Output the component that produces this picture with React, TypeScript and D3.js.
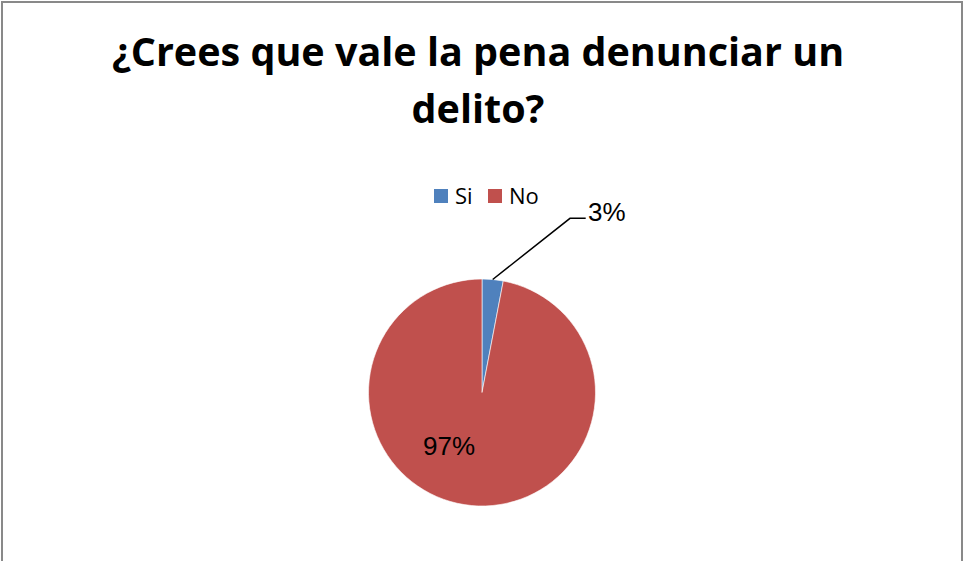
import React from "react";
import * as d3 from "d3";

const categories = ["Si", "No"];
const values = [3, 97];
const labels = ["3%", "97%"];
const colors = ["#4F81BD", "#C0504D"];
const titleLines = ["¿Crees que vale la pena denunciar un", "delito?"];

const W = 965;
const H = 561;

export default function App() {
  const cx = 482;
  const cy = 392.5;
  const r = 113.5;
  const pie = d3.pie<number>().sort(null).value((d) => d)(values);
  const arc = d3.arc<d3.PieArcDatum<number>>().innerRadius(0).outerRadius(r);

  // leader line for the small slice
  const s = pie[0];
  const mid = (s.startAngle + s.endAngle) / 2;
  const p0: [number, number] = [cx + Math.sin(mid) * r, cy - Math.cos(mid) * r];
  const elbow: [number, number] = [570, 218.3];
  const end: [number, number] = [585.7, 218.3];

  const legendX = [434, 488];

  return (
    <div style={{ position: "fixed", left: 0, top: 0 }}>
      <svg width={W} height={H} style={{ display: "block", background: "#fff" }}>
        <rect x={2} y={2} width={960} height={620} fill="#fff" stroke="#898989" strokeWidth={2} />
        {titleLines.map((t, i) => (
          <text
            key={i}
            x={478}
            y={66 + i * 57}
            textAnchor="middle"
            fontFamily="'Open Sans', sans-serif"
            fontWeight="bold"
            fontSize={39.5}
            fill="#000"
          >
            {t}
          </text>
        ))}
        {categories.map((c, i) => (
          <g key={c}>
            <rect x={legendX[i]} y={189} width={14} height={14} fill={colors[i]} />
            <text
              x={legendX[i] + 21}
              y={204}
              fontFamily="'Open Sans', sans-serif"
              fontSize={22}
              fill="#000"
            >
              {c}
            </text>
          </g>
        ))}
        <g transform={`translate(${cx},${cy})`}>
          {pie.map((d, i) => (
            <path key={i} d={arc(d) || ""} fill={colors[i]} stroke="#fff" strokeWidth={0.6} />
          ))}
        </g>
        <polyline
          points={[p0, elbow, end].map((p) => p.join(",")).join(" ")}
          fill="none"
          stroke="#000"
          strokeWidth={1.5}
        />
        <text x={588} y={221} fontFamily="'Liberation Sans', Arial, sans-serif" fontSize={26} fill="#000">
          {labels[0]}
        </text>
        <text x={423} y={455} fontFamily="'Liberation Sans', Arial, sans-serif" fontSize={26} fill="#000">
          {labels[1]}
        </text>
      </svg>
    </div>
  );
}
